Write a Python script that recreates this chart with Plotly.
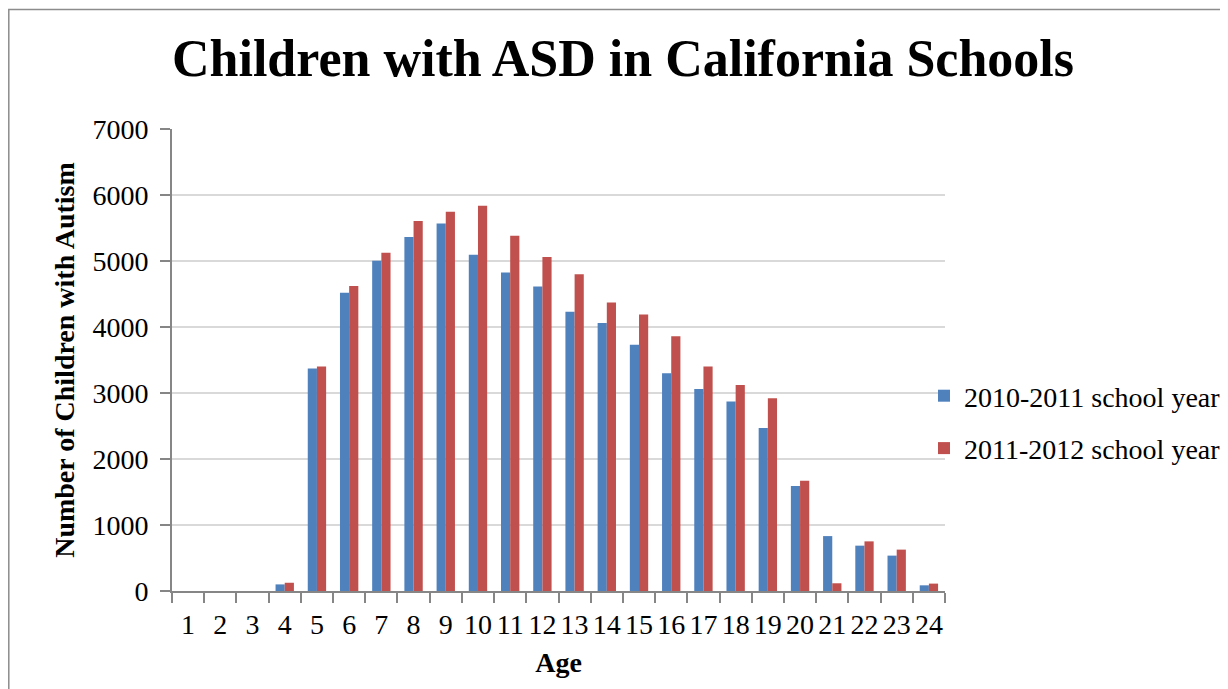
import plotly.graph_objects as go

ages = [str(a) for a in range(1, 25)]
y2010 = [0, 0, 0, 100, 3370, 4520, 5005, 5364, 5570, 5096, 4824, 4612,
         4230, 4060, 3730, 3300, 3060, 2870, 2470, 1590, 832, 687, 536, 86]
y2011 = [0, 0, 0, 125, 3400, 4623, 5126, 5606, 5747, 5838, 5383, 5061,
         4798, 4370, 4190, 3860, 3400, 3120, 2920, 1670, 117, 752, 627, 112]
series_names = ["2010-2011 school year", "2011-2012 school year"]
yticks = [0, 1000, 2000, 3000, 4000, 5000, 6000, 7000]

FONT = "Liberation Serif"
OFF = 8  # page body margin
W, H = 1228 - OFF, 689 - OFF
L, R, T, B = 172 - OFF, 945 - OFF, 129 - OFF, 591 - OFF

fig = go.Figure()
fig.add_trace(go.Bar(x=ages, y=y2010, name=series_names[0], legendgroup="a",
                     marker=dict(color="#4F81BD", line=dict(width=0))))
fig.add_trace(go.Bar(x=ages, y=y2011, name=series_names[1], legendgroup="b",
                     marker=dict(color="#C0504D", line=dict(width=0))))

pw, ph = R - L, B - T
def px(x):
    return (x - OFF - L) / pw
def py(y):
    return (B - (y - OFF)) / ph

fig.add_shape(type="rect", xref="paper", yref="paper",
              x0=px(8.8), x1=px(1260), y0=py(720), y1=py(9.5),
              line=dict(color="#8C8C8C", width=1.5), fillcolor="rgba(0,0,0,0)", layer="below")

fig.update_layout(
    width=W, height=H,
    margin=dict(l=L, r=W - R, t=T, b=H - B, pad=0, autoexpand=False),
    paper_bgcolor="white", plot_bgcolor="white",
    font=dict(family=FONT, size=28, color="black"),
    title=dict(text="<b>Children with ASD in California Schools</b>",
               font=dict(family=FONT, size=52, color="black"),
               x=(623 - OFF) / W, xanchor="center", xref="container",
               y=1 - (60 - OFF - 2) / H, yanchor="middle", yref="container"),
    barmode="group", bargap=0.43, bargroupgap=0,
    showlegend=True,
    legend=dict(x=px(924), xanchor="left", y=py(422), yanchor="middle",
                font=dict(family=FONT, size=28), tracegroupgap=13,
                bgcolor="rgba(0,0,0,0)", itemwidth=30),
    xaxis=dict(type="category", tickson="boundaries", ticks="outside", ticklen=10,
               tickcolor="#868686", tickwidth=2, showline=True, linecolor="#868686",
               linewidth=2, showgrid=False, tickangle=0, tickmode="array",
               tickvals=ages, ticktext=ages, automargin=False, ticklabelstandoff=7,
               tickfont=dict(family=FONT, size=28),
               title=dict(text="<b>Age</b>", font=dict(family=FONT, size=28), standoff=14)),
    yaxis=dict(range=[0, 7000], tickvals=yticks, ticks="outside", ticklen=10,
               tickcolor="#868686", tickwidth=2, showline=True, linecolor="#868686",
               linewidth=2, showgrid=True, gridcolor="#D9D9D9", gridwidth=2,
               zeroline=False, automargin=False,
               tickfont=dict(family=FONT, size=28), ticklabelstandoff=6,
               title=dict(text="<b>Number of Children with Autism</b>",
                          font=dict(family=FONT, size=28), standoff=10)),
)

fig.write_html("out.html")
